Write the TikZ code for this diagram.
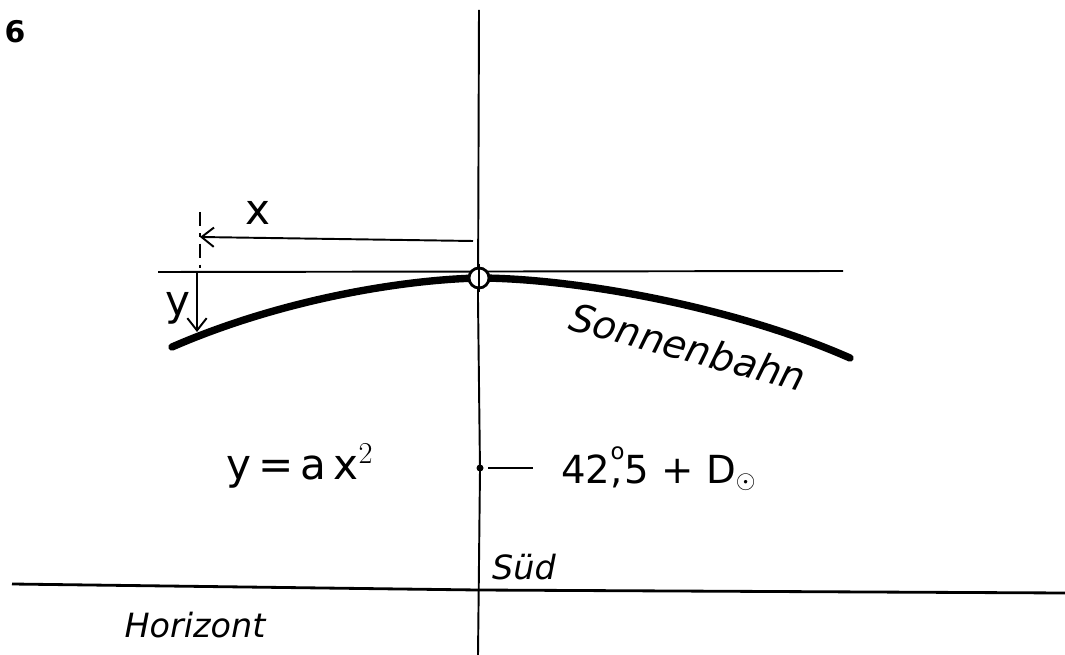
\documentclass[tikz,border=0pt]{standalone}
\usepackage{fontspec}
\setsansfont{DejaVu Sans}
\usetikzlibrary{arrows.meta}
\tikzset{
  hand/.style={font=\sffamily\itshape\fontsize{19}{22}\selectfont,inner sep=0pt},
  big/.style={font=\sffamily\fontsize{24}{26}\selectfont,inner sep=0pt},
  thinline/.style={line width=1.1pt},
  pathline/.style={line width=4.2pt,line cap=round},
  arr/.style={thinline,-{Straight Barb[length=7pt,width=11pt]}}
}
\begin{document}
\begin{tikzpicture}[x=0.02cm,y=-0.02cm]
\path[use as bounding box] (0,0) rectangle (1065,655);
% Nummer
\node[font=\sffamily\bfseries\fontsize{17}{20}\selectfont,inner sep=0pt] (num) at (15,32) {6};
% Meridian und Horizont
\draw[thinline] (479,10) -- (478,300) -- (480,470) -- (478,655);
\draw[line width=1.6pt] (12,584) -- (478,590) -- (1065,593);
% Kulminationshoehe
\draw[thinline] (158,272) -- (843,271);
% Sonnenbahn
\draw[pathline] (172,347) .. controls (280,300) and (400,280) .. (478,278)
  .. controls (570,278) and (730,305) .. (850,358);
\coordinate (sun) at (479,278);
\draw[line width=1.6pt,fill=white] (sun) circle (10);
\draw[thinline] (479,264) -- (479,292);
% x und y
\draw[thinline,dash pattern=on 8pt off 4pt on 2pt off 4pt] (200,212) -- (200,272);
\coordinate (xs) at (473,241);
\coordinate (xe) at (200,237);
\draw[arr] (xs) -- (xe);
\node[big] (xl) at (258,213) {x};
\coordinate (ys) at (197,272);
\coordinate (ye) at (197,332);
\draw[arr] (ys) -- (ye);
\node[big] (yl) at (178,308) {y};
% Beschriftungen
\node[hand,font=\sffamily\itshape\fontsize{22}{26}\selectfont,rotate=-15] (bahn) at (688,347) {Sonnenbahn};
\node[big] (formel) at (300,466) {y\,=\,a\,x$^{2}$};
\fill (480,468) circle (3.5);
\coordinate (mark) at (488,468);
\coordinate (markend) at (533,468);
\draw[thinline] (mark) -- (markend);
\node[big,anchor=west,font=\sffamily\fontsize{22}{26}\selectfont] (hoehe) at (561,469)
  {42\rlap{,}\raisebox{1.1ex}{\fontsize{13}{13}\selectfont o}5 + D$_{\odot}$};
\node[hand] (sued) at (524,567) {Süd};
\node[hand] (hor) at (195,625) {Horizont};
\end{tikzpicture}
\end{document}
